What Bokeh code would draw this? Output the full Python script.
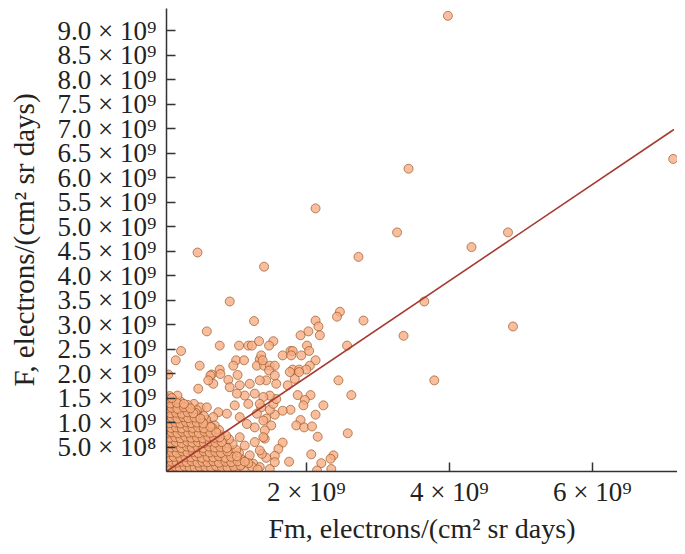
from bokeh.plotting import figure
from bokeh.models import Range1d, FixedTicker
from bokeh.embed import file_html
from bokeh.resources import INLINE

E9 = 1e9

# ---- ticks (values in units of 1e9) ----
x_ticks = [2.0, 4.0, 6.0]
x_tick_labels = ["2 × 10⁹", "4 × 10⁹", "6 × 10⁹"]
y_ticks = [0.5, 1.0, 1.5, 2.0, 2.5, 3.0, 3.5, 4.0, 4.5, 5.0, 5.5, 6.0, 6.5, 7.0, 7.5, 8.0, 8.5, 9.0]
y_tick_labels = ["5.0 × 10⁸", "1.0 × 10⁹", "1.5 × 10⁹", "2.0 × 10⁹", "2.5 × 10⁹", "3.0 × 10⁹",
                 "3.5 × 10⁹", "4.0 × 10⁹", "4.5 × 10⁹", "5.0 × 10⁹", "5.5 × 10⁹", "6.0 × 10⁹",
                 "6.5 × 10⁹", "7.0 × 10⁹", "7.5 × 10⁹", "8.0 × 10⁹", "8.5 × 10⁹", "9.0 × 10⁹"]
x_title = "Fm, electrons/(cm² sr days)"
y_title = "F, electrons/(cm² sr days)"

# ---- regression line (Fm, F) in 1e9 ----
fit_fm = [0.046, 7.14]
fit_f = [0.0, 6.98]

# ---- scatter points (Fm, F) in 1e9 ----
outlier_pts = [(3.98, 9.30), (3.43, 6.18), (7.13, 6.38), (2.13, 5.37), (3.27, 4.88), (4.82, 4.88),
               (4.31, 4.58), (2.73, 4.38), (0.48, 4.47), (1.41, 4.18), (0.93, 3.47), (3.65, 3.47),
               (3.36, 2.77), (4.89, 2.96), (3.79, 1.86)]

upper_pts = [(1.27, 3.07), (0.61, 2.86), (0.79, 2.57), (0.25, 2.46), (0.175, 2.27), (1.06, 2.57),
             (1.19, 2.57), (1.24, 2.57), (1.34, 2.66), (1.02, 2.27), (1.13, 2.27), (0.51, 2.16),
             (0.79, 2.08), (0.68, 1.98), (0.98, 2.16), (1.35, 2.29), (1.37, 2.37), (1.31, 2.16),
             (1.41, 2.16), (0.07, 1.98),
             (2.47, 3.26), (2.43, 3.16), (2.80, 3.08), (2.13, 3.08), (2.17, 2.96), (2.03, 2.86),
             (2.19, 2.78), (1.92, 2.78), (2.57, 2.57), (2.01, 2.57), (2.04, 2.46), (1.54, 2.66),
             (1.48, 2.57), (1.78, 2.46), (1.81, 2.46), (1.67, 2.37), (1.79, 2.37), (1.93, 2.37),
             (2.13, 2.27), (2.05, 2.16), (1.49, 2.16), (1.56, 2.16), (1.48, 2.06), (1.81, 2.08),
             (1.90, 2.08), (2.00, 2.08), (1.39, 2.27)]

right_pts = [(2.45, 1.86), (2.63, 1.56), (2.24, 1.35), (2.06, 1.56), (1.88, 1.56), (1.98, 1.46),
             (1.96, 1.35), (2.13, 1.16), (1.92, 1.05), (1.86, 0.94), (1.97, 0.90), (2.08, 0.92),
             (2.16, 0.71), (2.58, 0.78), (1.67, 0.59), (1.61, 0.46), (2.07, 0.35), (2.38, 0.33),
             (2.34, 0.26), (2.21, 0.17), (1.76, 0.20), (2.35, 0.05), (2.15, 0.02), (1.49, 0.05),
             (1.56, 0.32), (1.56, 0.19), (1.44, 0.28), (1.38, 0.36), (1.78, 1.26), (1.67, 1.24),
             (1.56, 1.16), (1.49, 1.26), (1.54, 1.38), (1.58, 1.48), (1.49, 1.55), (1.44, 1.08),
             (1.51, 0.94), (1.42, 0.84), (1.42, 0.67), (1.58, 1.79), (1.44, 1.86), (1.56, 1.96),
             (1.74, 1.76), (1.84, 1.89), (1.90, 2.03), (1.77, 2.03), (1.37, 1.31)]

ring_pts = [(1.04, 1.97), (0.91, 1.87), (0.66, 1.96), (0.80, 1.99), (0.70, 1.79), (0.63, 1.86),
            (0.49, 1.69), (0.15, 1.38), (0.24, 1.38), (0.43, 1.38), (0.52, 1.31), (0.61, 1.31),
            (0.93, 1.72), (1.07, 1.76), (1.21, 1.79), (1.35, 1.86), (1.28, 1.59), (1.14, 1.55),
            (1.03, 1.59), (1.40, 1.52), (1.35, 1.38), (1.19, 1.38), (1.00, 1.35), (0.24, 1.18),
            (0.33, 1.14), (0.15, 0.94), (0.17, 0.77), (1.31, 1.18), (1.40, 1.04), (1.28, 0.90),
            (1.40, 0.70), (1.28, 0.60), (1.35, 0.43), (1.21, 0.33), (1.12, 0.22), (1.26, 0.16),
            (1.35, 0.09), (1.03, 0.12), (0.96, 0.36), (1.14, 0.53), (1.07, 0.70), (1.17, 0.97),
            (1.07, 1.11), (0.89, 1.18), (0.77, 1.21), (0.70, 1.11)]

core_low = [(0.07, 0.04), (0.13, 0.07), (0.19, 0.03), (0.26, 0.06), (0.33, 0.05), (0.40, 0.02),
            (0.47, 0.08), (0.55, 0.04), (0.62, 0.06), (0.70, 0.03), (0.78, 0.07), (0.86, 0.05),
            (0.95, 0.04), (1.04, 0.09), (1.13, 0.06), (1.24, 0.10), (1.32, 0.04),
            (0.08, 0.14), (0.15, 0.15), (0.22, 0.13), (0.29, 0.16), (0.36, 0.14), (0.44, 0.15),
            (0.51, 0.13), (0.58, 0.16), (0.66, 0.14), (0.74, 0.15), (0.83, 0.13), (0.91, 0.16),
            (1.00, 0.14), (1.10, 0.15), (1.19, 0.17),
            (0.06, 0.24), (0.12, 0.25), (0.20, 0.23), (0.27, 0.26), (0.35, 0.24), (0.42, 0.25),
            (0.50, 0.23), (0.57, 0.26), (0.65, 0.24), (0.73, 0.25), (0.81, 0.23), (0.90, 0.26),
            (0.98, 0.24), (1.08, 0.27),
            (0.09, 0.34), (0.16, 0.35), (0.23, 0.33), (0.31, 0.36), (0.38, 0.34), (0.46, 0.35),
            (0.53, 0.33), (0.61, 0.36), (0.69, 0.34), (0.77, 0.35), (0.86, 0.33), (1.06, 0.38),
            (0.07, 0.44), (0.14, 0.45), (0.21, 0.43), (0.28, 0.46), (0.36, 0.44), (0.43, 0.45),
            (0.51, 0.43), (0.58, 0.46), (0.66, 0.44), (0.75, 0.45), (0.84, 0.43), (0.93, 0.46),
            (1.02, 0.44)]

core_mid = [(0.08, 0.54), (0.15, 0.55), (0.22, 0.53), (0.30, 0.56), (0.37, 0.54), (0.45, 0.55),
            (0.52, 0.53), (0.60, 0.56), (0.68, 0.54), (0.77, 0.55), (0.86, 0.53), (0.97, 0.56),
            (0.06, 0.64), (0.13, 0.65), (0.20, 0.63), (0.27, 0.66), (0.35, 0.64), (0.42, 0.65),
            (0.50, 0.63), (0.58, 0.66), (0.66, 0.64), (0.74, 0.65), (0.83, 0.63), (0.92, 0.66),
            (0.09, 0.74), (0.16, 0.75), (0.23, 0.73), (0.31, 0.76), (0.38, 0.74), (0.46, 0.75),
            (0.54, 0.73), (0.62, 0.76), (0.70, 0.74), (0.79, 0.75), (0.88, 0.73),
            (0.07, 0.84), (0.14, 0.85), (0.21, 0.83), (0.29, 0.86), (0.36, 0.84), (0.44, 0.85),
            (0.52, 0.83), (0.60, 0.86), (0.69, 0.84), (0.78, 0.85),
            (0.08, 0.94), (0.15, 0.95), (0.23, 0.93), (0.30, 0.96), (0.38, 0.94), (0.46, 0.95),
            (0.54, 0.93), (0.63, 0.96), (0.72, 0.94)]

core_high = [(0.06, 1.04), (0.13, 1.05), (0.20, 1.03), (0.28, 1.06), (0.35, 1.04), (0.43, 1.05),
             (0.51, 1.03), (0.60, 1.06),
             (0.09, 1.14), (0.16, 1.15), (0.24, 1.13), (0.31, 1.16), (0.39, 1.14), (0.48, 1.15),
             (0.57, 1.13),
             (0.07, 1.24), (0.14, 1.25), (0.22, 1.23), (0.30, 1.26), (0.38, 1.24), (0.47, 1.25),
             (0.08, 1.34), (0.16, 1.35), (0.25, 1.33), (0.34, 1.36),
             (0.07, 1.44), (0.15, 1.45), (0.24, 1.43), (0.09, 1.54), (0.20, 1.55)]

core_dense = [(0.10, 0.10), (0.17, 0.19), (0.24, 0.09), (0.30, 0.20), (0.11, 0.29), (0.20, 0.38),
              (0.32, 0.31), (0.09, 0.48), (0.26, 0.49), (0.38, 0.42), (0.14, 0.58), (0.33, 0.60),
              (0.42, 0.15), (0.50, 0.30), (0.46, 0.55), (0.12, 0.70), (0.25, 0.69), (0.20, 0.80),
              (0.35, 0.78), (0.10, 0.90), (0.55, 0.18), (0.60, 0.42), (0.65, 0.10), (0.72, 0.30),
              (0.40, 0.90), (0.50, 0.70), (0.30, 1.00), (0.18, 1.10), (0.80, 0.20), (0.88, 0.40),
              (0.62, 0.80), (0.75, 0.60), (0.55, 1.00), (0.90, 0.10), (0.45, 1.20), (0.12, 1.30),
              (0.06, 0.09), (0.14, 0.02), (0.21, 0.28), (0.28, 0.39), (0.35, 0.09), (0.44, 0.38),
              (0.52, 0.07), (0.58, 0.29), (0.68, 0.20), (0.76, 0.09), (0.84, 0.27), (0.95, 0.18),
              (0.05, 0.58), (0.18, 0.49), (0.27, 0.58), (0.40, 0.60), (0.55, 0.49), (0.64, 0.55),
              (0.71, 0.48), (0.81, 0.59), (0.10, 0.79), (0.26, 0.88), (0.33, 0.69), (0.47, 0.80),
              (0.57, 0.68), (0.68, 0.90), (0.05, 1.00), (0.22, 0.97), (0.40, 1.10), (0.47, 0.99),
              (0.12, 1.19), (0.28, 1.18), (0.20, 1.30), (0.05, 1.36)]

core_fill = [(0.10, 0.09), (0.17, 0.10), (0.23, 0.08), (0.30, 0.10), (0.37, 0.09), (0.44, 0.08),
             (0.51, 0.10), (0.59, 0.09), (0.67, 0.08), (0.74, 0.11), (0.82, 0.09), (0.90, 0.08),
             (0.99, 0.10), (1.08, 0.12),
             (0.05, 0.19), (0.12, 0.20), (0.19, 0.18), (0.26, 0.20), (0.33, 0.19), (0.40, 0.21),
             (0.48, 0.18), (0.55, 0.20), (0.62, 0.19), (0.70, 0.21), (0.78, 0.18), (0.87, 0.20),
             (0.95, 0.19), (1.04, 0.21), (1.14, 0.20),
             (0.08, 0.29), (0.15, 0.30), (0.24, 0.28), (0.31, 0.30), (0.39, 0.29), (0.46, 0.31),
             (0.54, 0.28), (0.62, 0.30), (0.70, 0.29), (0.78, 0.31), (0.87, 0.28), (0.95, 0.30),
             (1.03, 0.31),
             (0.05, 0.39), (0.12, 0.40), (0.19, 0.38), (0.27, 0.41), (0.34, 0.39), (0.42, 0.40),
             (0.49, 0.38), (0.57, 0.41), (0.65, 0.39), (0.73, 0.40), (0.81, 0.38), (0.90, 0.41),
             (0.11, 0.49), (0.18, 0.50), (0.25, 0.48), (0.33, 0.51), (0.40, 0.49), (0.48, 0.50),
             (0.56, 0.48), (0.64, 0.51), (0.72, 0.49), (0.80, 0.50), (0.89, 0.48),
             (0.10, 0.59), (0.18, 0.60), (0.26, 0.58), (0.34, 0.61), (0.41, 0.59), (0.49, 0.60),
             (0.57, 0.58), (0.65, 0.61), (0.73, 0.59), (0.82, 0.60),
             (0.09, 0.69), (0.17, 0.70), (0.24, 0.68), (0.31, 0.71), (0.39, 0.69), (0.47, 0.70),
             (0.55, 0.68), (0.63, 0.71), (0.71, 0.69), (0.79, 0.70),
             (0.05, 0.79), (0.12, 0.80), (0.20, 0.78), (0.27, 0.81), (0.35, 0.79), (0.42, 0.80),
             (0.50, 0.78), (0.58, 0.81), (0.66, 0.79), (0.74, 0.80),
             (0.11, 0.89), (0.18, 0.90), (0.26, 0.88), (0.34, 0.91), (0.41, 0.89), (0.49, 0.90),
             (0.57, 0.88), (0.66, 0.91),
             (0.09, 0.99), (0.17, 1.00), (0.24, 0.98), (0.32, 1.01), (0.39, 0.99), (0.47, 1.00),
             (0.56, 0.98),
             (0.05, 1.09), (0.12, 1.10), (0.20, 1.08), (0.28, 1.11), (0.35, 1.09), (0.44, 1.10),
             (0.52, 1.08),
             (0.10, 1.19), (0.18, 1.20), (0.26, 1.18), (0.34, 1.21), (0.42, 1.19),
             (0.05, 1.29), (0.12, 1.30), (0.20, 1.28), (0.29, 1.31), (0.38, 1.29),
             (0.10, 1.39), (0.19, 1.40), (0.29, 1.38), (0.05, 1.49), (0.12, 1.50)]

points = (outlier_pts + upper_pts + right_pts + ring_pts + core_low + core_mid + core_high
          + core_dense + core_fill)
fm_vals = [pt[0] * E9 for pt in points]
f_vals = [pt[1] * E9 for pt in points]

FONT = "Liberation Serif"

p = figure(width=677, height=546, output_backend="svg", toolbar_location=None,
           x_range=Range1d(0.046 * E9, 7.19 * E9), y_range=Range1d(0, 9.45 * E9),
           min_border_left=166, min_border_right=0, min_border_top=8, min_border_bottom=75)
p.grid.visible = False
p.outline_line_color = None
p.background_fill_color = "white"
p.border_fill_color = "white"

p.scatter(fm_vals, f_vals, marker="circle", size=9, fill_color="#F7AE85", fill_alpha=0.8,
          line_color="#93501B", line_alpha=0.65, line_width=1)
p.line([v * E9 for v in fit_fm], [v * E9 for v in fit_f], line_color="#A63A30", line_width=1.6)

xt = [v * E9 for v in x_ticks]
yt = [v * E9 for v in y_ticks]
p.xaxis.ticker = FixedTicker(ticks=xt)
p.yaxis.ticker = FixedTicker(ticks=yt)
p.xaxis.major_label_overrides = {t: s for t, s in zip(xt, x_tick_labels)}
p.yaxis.major_label_overrides = {t: s for t, s in zip(yt, y_tick_labels)}

for ax in (p.xaxis[0], p.yaxis[0]):
    ax.axis_line_color = "#333333"
    ax.axis_line_width = 1.5
    ax.major_tick_line_color = "#333333"
    ax.major_tick_line_width = 1.5
    ax.major_tick_in = 9
    ax.major_tick_out = 0
    ax.minor_tick_line_color = None
    ax.major_label_text_font = FONT
    ax.major_label_text_font_size = "27px"
    ax.major_label_text_color = "#222222"
    ax.axis_label_text_font = FONT
    ax.axis_label_text_font_style = "normal"
    ax.axis_label_text_color = "#222222"
p.xaxis.axis_label_text_font_size = "28px"
p.yaxis.axis_label_text_font_size = "29px"
p.xaxis.major_label_standoff = 5
p.yaxis.major_label_standoff = 10
p.xaxis.axis_label = x_title
p.yaxis.axis_label = y_title
p.xaxis.axis_label_standoff = 3
p.yaxis.axis_label_standoff = 15

open("out.html", "w").write(file_html(p, INLINE))
